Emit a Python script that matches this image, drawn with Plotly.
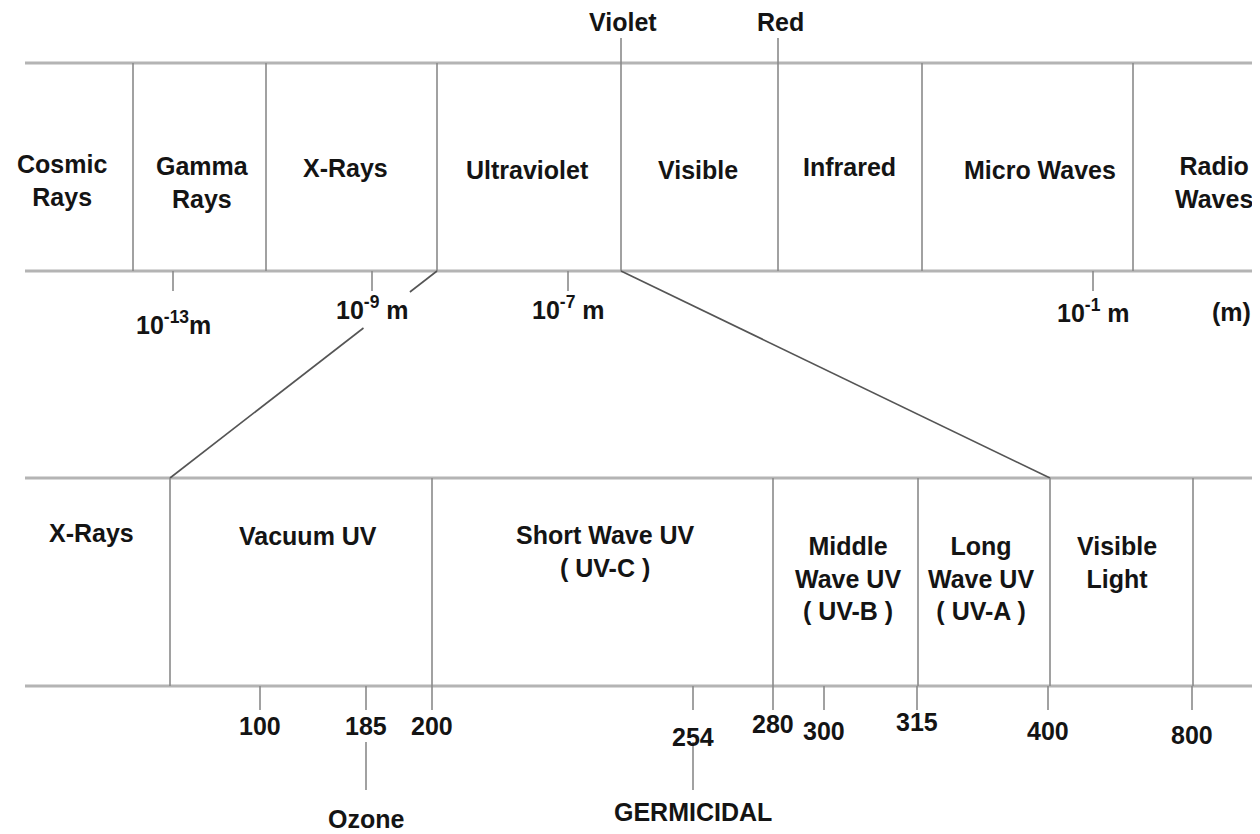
import plotly.graph_objects as go

# ---- Top band: full electromagnetic spectrum ----
top_band_labels = ["Cosmic<br>Rays", "Gamma<br>Rays", "X-Rays", "Ultraviolet", "Visible",
                   "Infrared", "Micro Waves", "Radio<br>Waves"]
top_label_x = [62, 202, 345, 527, 698, 849, 1040, 1214]
top_label_y = [180, 182, 168, 170, 170, 167, 170, 182]
top_dividers_x = [133, 266, 437, 621, 778, 922, 1133]
top_marker_names = ["Violet", "Red"]
top_marker_x = [621, 778]
top_ticks_x = [173, 372, 568, 1093]
top_tick_labels = ["10<sup>-13</sup>m", "10<sup>-9</sup> m", "10<sup>-7</sup> m", "10<sup>-1</sup> m"]
top_tick_label_y = [323, 308, 308, 311]
unit_label = "(m)"

# ---- Bottom band: ultraviolet detail (nm) ----
uv_band_labels = ["X-Rays", "Vacuum UV", "Short Wave UV<br>( UV-C )", "Middle<br>Wave UV<br>( UV-B )",
                  "Long<br>Wave UV<br>( UV-A )", "Visible<br>Light"]
uv_label_x = [91, 308, 605, 848, 981, 1117]
uv_label_y = [533, 536, 551, 578, 578, 562]
uv_dividers_x = [170, 432, 773, 918, 1050, 1193]
uv_ticks_x = [260, 366, 432, 693, 773, 824, 917, 1048, 1192]
uv_tick_labels = ["100", "185", "200", "254", "280", "300", "315", "400", "800"]
uv_tick_label_y = [726, 726, 726, 737, 724, 731, 722, 731, 735]
uv_callout_names = ["Ozone", "GERMICIDAL"]
uv_callout_x = [366, 693]
uv_callout_y = [819, 812]

# band geometry (diagram units)
TOP_Y0, TOP_Y1 = 63, 271
BOT_Y0, BOT_Y1 = 478, 686
LEFT, RIGHT = 25, 1256

LINE_GRAY = "#8a8a8a"
RULE_GRAY = "#b4b4b4"
FONT = dict(family="Liberation Sans, Arial, Helvetica, sans-serif", size=25, color="#141414",
            weight="bold")

fig = go.Figure()


def seg_trace(xs, ys, color, width):
    fig.add_trace(go.Scatter(x=xs, y=ys, mode="lines", line=dict(color=color, width=width),
                             hoverinfo="skip", showlegend=False))


def vlines(xlist, y0, y1, color=LINE_GRAY, width=1.6):
    xs, ys = [], []
    for x in xlist:
        xs += [x, x, None]
        ys += [y0, y1, None]
    seg_trace(xs, ys, color, width)


# horizontal rules
seg_trace([LEFT, RIGHT, None, LEFT, RIGHT, None, LEFT, RIGHT, None, LEFT, RIGHT],
          [TOP_Y0, TOP_Y0, None, TOP_Y1, TOP_Y1, None, BOT_Y0, BOT_Y0, None, BOT_Y1, BOT_Y1],
          RULE_GRAY, 3)

# top band dividers
vlines(top_dividers_x, TOP_Y0, TOP_Y1)
vlines(top_marker_x, 38, TOP_Y0)
vlines(top_ticks_x, TOP_Y1, 291)

# zoom connector lines (left one interrupted by the 10^-9 label)
zx0, zx1 = top_dividers_x[2], uv_dividers_x[0]
zr0, zr1 = top_dividers_x[3], uv_dividers_x[4]


def interp(xa, ya, xb, yb, y):
    return xa + (xb - xa) * (y - ya) / (yb - ya)


seg_trace([zx0, interp(zx0, TOP_Y1, zx1, BOT_Y0, 292), None,
           interp(zx0, TOP_Y1, zx1, BOT_Y0, 328), zx1],
          [TOP_Y1, 292, None, 328, BOT_Y0], "#555555", 1.6)
seg_trace([zr0, zr1], [TOP_Y1, BOT_Y0], "#555555", 1.6)

# bottom band dividers
vlines(uv_dividers_x, BOT_Y0, BOT_Y1)
vlines(uv_ticks_x, BOT_Y1, 710)
vlines(uv_callout_x, 742, 790)

annotations = []
for t, x, y in zip(top_band_labels, top_label_x, top_label_y):
    annotations.append(dict(x=x, y=y, text=t))
for t, x in zip(top_marker_names, top_marker_x):
    annotations.append(dict(x=x + 2, y=22, text=t))
for t, x, y in zip(top_tick_labels, top_ticks_x, top_tick_label_y):
    annotations.append(dict(x=x, y=y, text=t))
annotations.append(dict(x=1231, y=312, text=unit_label))
for t, x, y in zip(uv_band_labels, uv_label_x, uv_label_y):
    annotations.append(dict(x=x, y=y, text=t))
for t, x, y in zip(uv_tick_labels, uv_ticks_x, uv_tick_label_y):
    annotations.append(dict(x=x, y=y, text=t))
for t, x, y in zip(uv_callout_names, uv_callout_x, uv_callout_y):
    annotations.append(dict(x=x, y=y, text=t))

for a in annotations:
    a.update(xref="x", yref="y", showarrow=False, font=FONT, xanchor="center", yanchor="middle",
             align="center")

# The page body has an 8px margin, so the figure is sized and ranged so that
# diagram units coincide with window pixels.
fig.update_layout(
    width=1252, height=826,
    margin=dict(l=0, r=0, t=0, b=0),
    paper_bgcolor="white", plot_bgcolor="white",
    xaxis=dict(range=[8, 1260], visible=False, fixedrange=True),
    yaxis=dict(range=[834, 8], visible=False, fixedrange=True),
    annotations=annotations,
    showlegend=False,
)

fig.write_html("out.html")
